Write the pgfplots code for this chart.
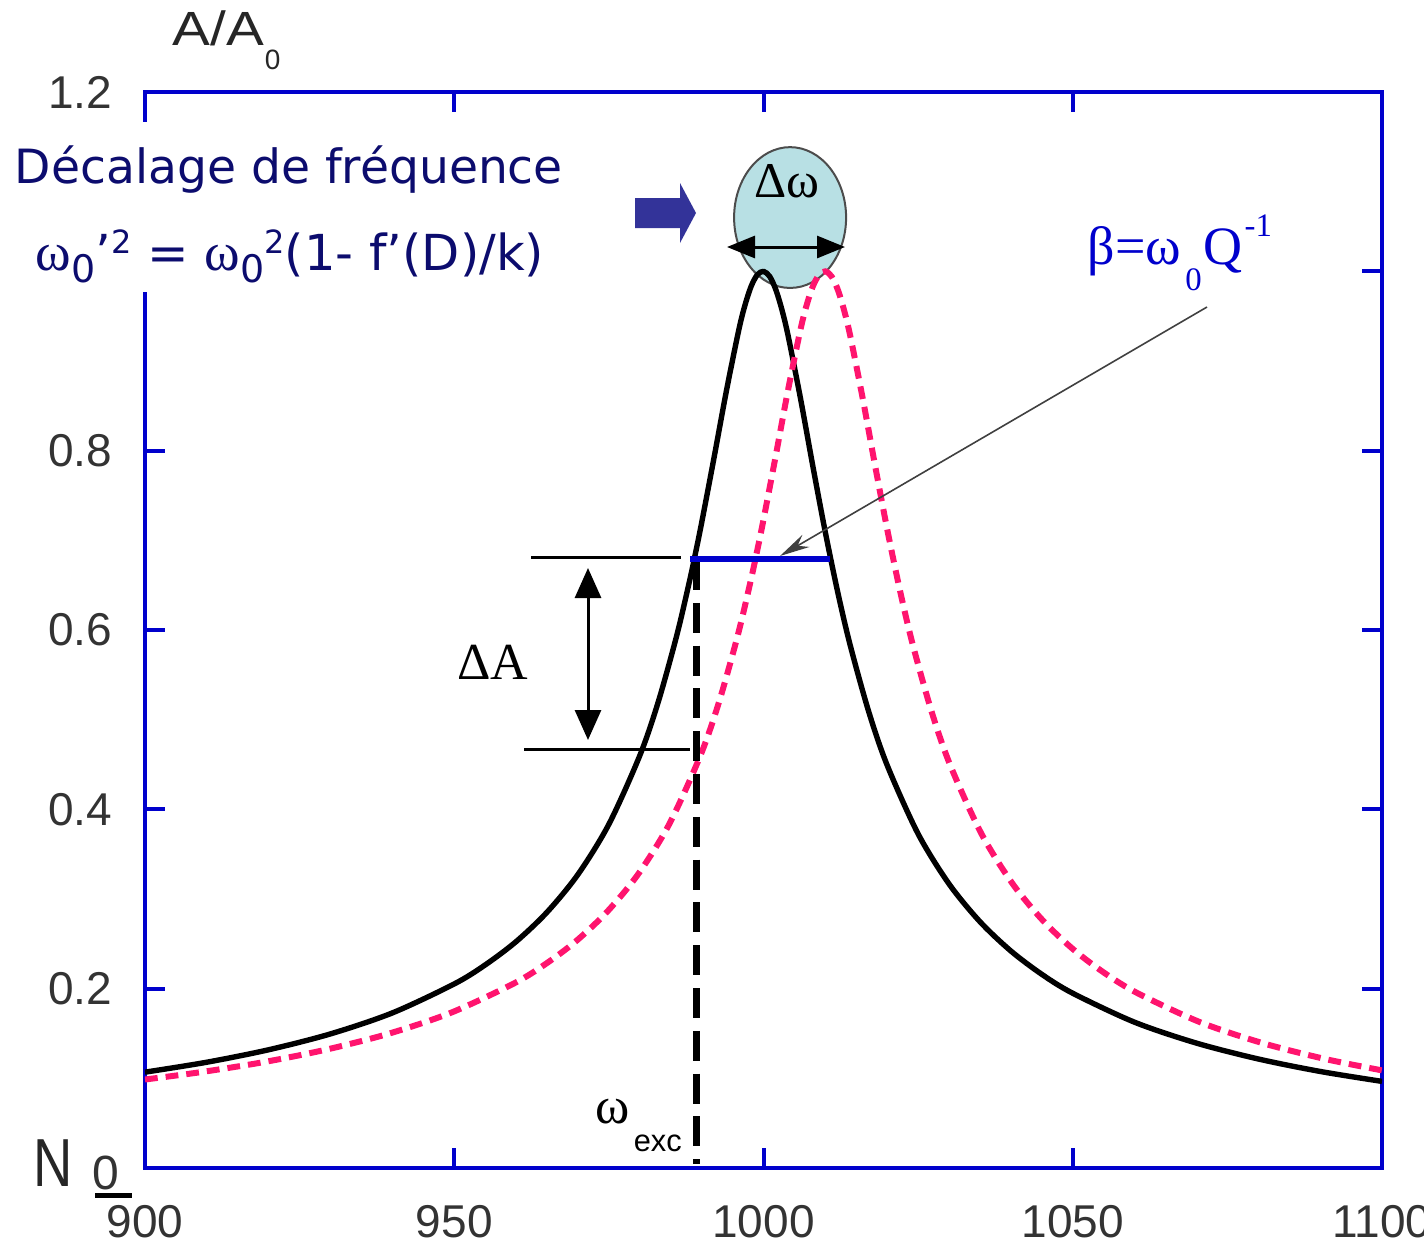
\documentclass[border=0pt]{standalone}
\usepackage{fontspec}
\setmainfont{Liberation Sans}
\newfontfamily\verd{DejaVu Sans}
\newfontfamily\tms{Liberation Serif}
\usepackage{pgfplots}
\pgfplotsset{compat=1.18}
\usetikzlibrary{arrows.meta,calc}
\definecolor{axblue}{RGB}{0,0,204}
\definecolor{navy}{RGB}{12,12,110}
\definecolor{pinkred}{RGB}{255,20,110}
\definecolor{ellfill}{RGB}{184,224,228}
\definecolor{arrblue}{RGB}{51,51,153}
\newcommand\fs[1]{\fontsize{#1}{#1}\selectfont}
\begin{document}
\begin{tikzpicture}
\begin{axis}[
  scale only axis, width=309.25pt, height=269pt,
  xmin=900, xmax=1100, ymin=0, ymax=1.2,
  axis line style={draw=axblue, line width=1pt},
  tick align=inside, major tick length=5pt,
  tick style={draw=axblue, line width=1pt},
  xtick={900,950,1000,1050,1100}, xticklabels={900,950,1000,1050,1100},
  ytick={0.2,0.4,0.6,0.8,1.0,1.2}, yticklabels={0.2,0.4,0.6,0.8,,1.2},
  /pgf/number format/assume math mode=true,
  ticklabel style={font=\fs{11.5}, text=black!80},
  xticklabel style={anchor=north, inner sep=0pt, yshift=-9.25pt},
  yticklabel style={anchor=east, inner sep=0pt, xshift=-8pt},
]
\coordinate (O) at (rel axis cs:0,0);
\draw[draw=black!70, line width=0.5pt, fill=ellfill] (axis cs:1004.3,1.060) ellipse [x radius=14pt, y radius=17.6pt];
\addplot[black, line width=1.35pt, line join=round, smooth, tension=0.5] coordinates {
(900,0.1069) (910,0.1180) (920,0.1319) (930,0.1496) (940,0.1730) (950,0.2053) (955,0.2265) (960,0.2525) (965,0.2853) (970,0.3274) (975,0.3834) (980,0.4600) (983,0.5202) (986,0.5946) (988,0.6534) (989,0.6856) (990,0.7196) (992,0.7921) (994,0.8666) (996,0.9345) (997,0.9622) (998,0.9833) (999,0.9962) (1000,1.0) (1001,0.9943) (1002,0.9794) (1003,0.9566) (1004,0.9275) (1006,0.8576) (1008,0.7819) (1010,0.7089) (1012,0.6423) (1014,0.5835) (1017,0.5092) (1020,0.4491) (1025,0.3726) (1030,0.3168) (1035,0.2747) (1040,0.2420) (1045,0.2160) (1050,0.1949) (1060,0.1626) (1070,0.1393) (1080,0.1216) (1090,0.1077) (1100,0.0966)
};
\addplot[pinkred, line width=1.5pt, dash pattern=on 3.2pt off 2pt, smooth, tension=0.5] coordinates {
(900,0.0987) (909,0.1069) (919.1,0.1180) (929.2,0.1319) (939.3,0.1496) (949.4,0.1730) (959.5,0.2053) (964.55,0.2265) (969.6,0.2525) (974.65,0.2853) (979.7,0.3274) (984.75,0.3834) (989.8,0.4600) (992.83,0.5202) (995.86,0.5946) (997.88,0.6534) (998.89,0.6856) (999.9,0.7196) (1001.92,0.7921) (1003.94,0.8666) (1005.96,0.9345) (1006.97,0.9622) (1007.98,0.9833) (1008.99,0.9962) (1010,1.0) (1011.01,0.9943) (1012.02,0.9794) (1013.03,0.9566) (1014.04,0.9275) (1016.06,0.8576) (1018.08,0.7819) (1020.1,0.7089) (1022.12,0.6423) (1024.14,0.5835) (1027.17,0.5092) (1030.2,0.4491) (1035.25,0.3726) (1040.3,0.3168) (1045.35,0.2747) (1050.4,0.2420) (1055.45,0.2160) (1060.5,0.1949) (1070.6,0.1626) (1080.7,0.1393) (1090.8,0.1216) (1100,0.1089)
};
\draw[black, line width=1.75pt, dash pattern=on 7.5pt off 3.2pt] (axis cs:989.2,0.678) -- (axis cs:989.2,0.004);
\draw[axblue, line width=1.5pt] (axis cs:988.1,0.679) -- (axis cs:1010.8,0.679);
\end{axis}
\begin{scope}[shift={($(O)+(-36.25pt,292pt)$)}, x=0.25pt, y=-0.25pt]
  % white background behind the text block
  \fill[white] (0,122) rectangle (570,292);
  \node[anchor=base west, inner sep=0pt, text=navy, font=\verd\fs{11.8}] at (14,183) {Décalage de fréquence};
  \node[anchor=base west, inner sep=0pt, text=navy, font=\verd\fs{12.4}] at (35,270)
   {{\tms\fs{13.5}ω}\raisebox{-3pt}{\fs{9.5}0}’\raisebox{4.2pt}{\fs{8}2} = {\tms\fs{13.5}ω}\raisebox{-3pt}{\fs{9.5}0}\raisebox{4.2pt}{\fs{8}2}(1- f’(D)/k)};
  % A/A0
  \node[anchor=base west, inner sep=0pt, font=\fs{12}, text=black!85] at (172,46) {\scalebox{1.18}[1]{A/A}};
  \node[anchor=base west, inner sep=0pt, font=\fs{7}, text=black!85] at (264,69) {0};
  % N 0
  \node[anchor=base west, inner sep=0pt, font=\fs{17}, text=black!85] at (33,1186) {\scalebox{0.8}[1]{N}};
  \node[anchor=base west, inner sep=0pt, font=\fs{12}, text=black!80] at (92,1189) {0};
  \fill[black] (95,1193) rectangle (132,1198);
  % blue block arrow
  \fill[arrblue] (635,198) -- (680,198) -- (680,183) -- (696,213) -- (680,243) -- (680,228) -- (635,228) -- cycle;
  % Delta omega
  \node[inner sep=0pt, font=\tms\fs{12.5}] at (787,181) {Δω};
  \draw[black, line width=0.75pt, {Triangle[length=7pt,width=5.5pt]}-{Triangle[length=7pt,width=5.5pt]}] (727,247) -- (845,247);
  % Delta A
  \draw[black, line width=0.75pt] (531,557) -- (681,557);
  \draw[black, line width=0.75pt] (524,749) -- (690,749);
  \draw[black, line width=0.75pt, {Triangle[length=7.5pt,width=6.5pt]}-{Triangle[length=7.5pt,width=6.5pt]}] (588,568) -- (588,740);
  \node[inner sep=0pt, font=\tms\fs{13}] at (493,662) {ΔA};
  % beta
  \node[anchor=base west, inner sep=0pt, text=axblue, font=\tms\fs{13.5}] at (1087,264)
   {β=ω\hspace{1pt}\raisebox{-6.5pt}{\fs{8.2}0}\hspace{0.5pt}Q\hspace{0.5pt}\raisebox{6.8pt}{\fs{8.2}-1}};
  \draw[black!75, line width=0.4pt, -{Stealth[length=7.5pt,width=3.5pt]}] (1207,307) -- (780,556);
  % omega exc
  \node[inner sep=0pt, font=\tms\fs{13}] at (613,1112) {ω};
  \node[anchor=base west, inner sep=0pt, font=\fs{7.7}] at (633,1151) {exc};
\end{scope}
\pgfresetboundingbox
\path[use as bounding box] ($(O)+(-36.25pt,-19.5pt)$) rectangle ($(O)+(319.75pt,292pt)$);
\end{tikzpicture}
\end{document}
